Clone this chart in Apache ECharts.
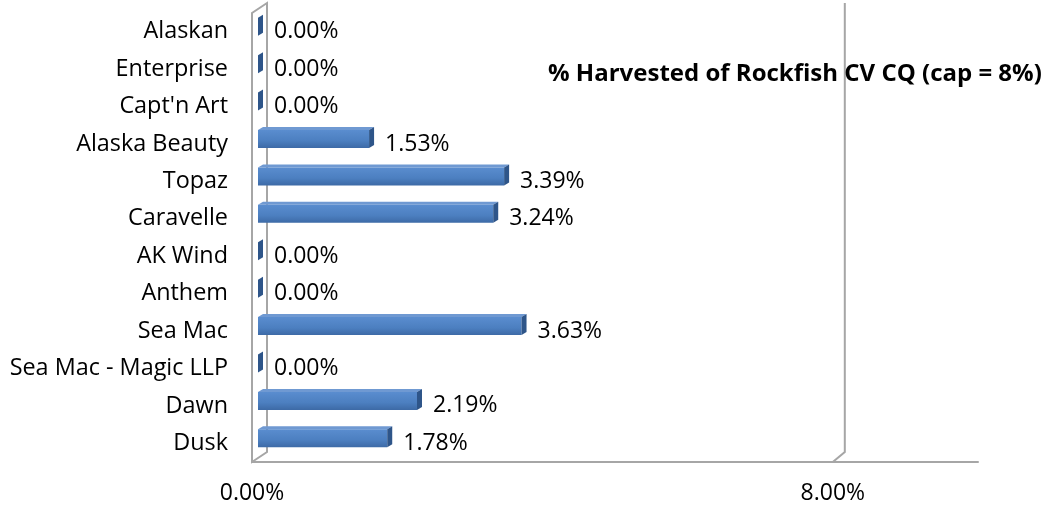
<!DOCTYPE html>
<html>
<head>
<meta charset="utf-8">
<script src="https://cdn.jsdelivr.net/npm/echarts@6/dist/echarts.min.js"></script>
<style>
html,body{margin:0;padding:0;background:#fff;}
#chart{width:1052px;height:508px;}
</style>
</head>
<body>
<div id="chart"></div>
<script>
// ---- data ----
var categories = ["Alaskan", "Enterprise", "Capt'n Art", "Alaska Beauty", "Topaz", "Caravelle",
  "AK Wind", "Anthem", "Sea Mac", "Sea Mac - Magic LLP", "Dawn", "Dusk"];
var harvested = [0.0000, 0.0000, 0.0000, 0.0153, 0.0339, 0.0324, 0.0000, 0.0000, 0.0363, 0.0000, 0.0219, 0.0178];
var xTicks = [0, 0.08];
var titleText = "% Harvested of Rockfish CV CQ (cap = 8%)";

var FONT = "'Open Sans', sans-serif";
function pct(v) { return (v * 100).toFixed(2) + '%'; }

var chart = echarts.init(document.getElementById('chart'), null, {renderer: 'canvas'});

var barData = harvested.map(function (v, i) { return [v, i]; });
var frameData = xTicks.map(function (t) { return [t, 0]; });

function renderFrame(params, api) {
  var cs = params.coordSys;
  var t = api.value(0);
  var xf = api.coord([t, 0])[0];
  var top = cs.y, bottom = cs.y + cs.height;
  if (t === 0) {
    return {
      type: 'polygon',
      shape: {points: [[xf, bottom], [xf, top], [xf + 15, top - 10], [xf + 15, bottom - 10]]},
      style: {stroke: '#a6a6a6', lineWidth: 2, fill: '#fff'}
    };
  }
  return {
    type: 'polyline',
    shape: {points: [[xf, bottom], [xf + 12, bottom - 10], [xf + 12, top - 10]]},
    style: {stroke: '#a6a6a6', lineWidth: 2, fill: null}
  };
}

function renderBar(params, api) {
  var v = api.value(0), ci = api.value(1);
  var p0 = api.coord([0, ci]), p1 = api.coord([v, ci]);
  var h = 18, dx = 6, dy = -5, cd = 5, cdy = -3;
  var x0 = p0[0] + dx, x1 = p1[0] + dx, yc = p0[1] + dy;
  var yt = yc - h / 2, yb = yc + h / 2;
  return {
    type: 'group',
    children: [
      {
        type: 'polygon',
        shape: {points: [[x0, yt], [x0 + cd, yt + cdy], [x1 + cd, yt + cdy], [x1, yt]]},
        style: {fill: '#6f99d2'}
      },
      {
        type: 'rect',
        shape: {x: x0, y: yt, width: Math.max(x1 - x0, 0), height: h},
        style: {
          fill: new echarts.graphic.LinearGradient(0, 0, 0, 1, [
            {offset: 0, color: '#5a8dcf'},
            {offset: 0.6, color: '#4c7fc0'},
            {offset: 1, color: '#3d6aa6'}
          ])
        }
      },
      {
        type: 'polygon',
        shape: {points: [[x1, yt], [x1 + cd, yt + cdy], [x1 + cd, yb + cdy], [x1, yb]]},
        style: {fill: '#2e5589'}
      },
      {
        type: 'text',
        style: {
          x: x1 + 16, y: p0[1],
          text: pct(v),
          font: '23px ' + FONT,
          fill: '#000',
          verticalAlign: 'middle',
          align: 'left'
        }
      }
    ]
  };
}

chart.setOption({
  animation: false,
  backgroundColor: '#fff',
  title: {
    text: titleText,
    left: 543, top: 57,
    textStyle: {fontFamily: FONT, fontWeight: 'bold', fontSize: 24, color: '#000'}
  },
  grid: {left: 252, right: 74, top: 13, bottom: 46, containLabel: false},
  xAxis: {
    type: 'value', min: 0, max: 0.10, interval: 0.08,
    axisLine: {show: true, lineStyle: {color: '#a6a6a6', width: 2}},
    axisTick: {show: false},
    splitLine: {show: false},
    axisLabel: {
      fontFamily: FONT, fontSize: 23, color: '#000', margin: 20,
      showMaxLabel: false,
      formatter: function (v) {
        for (var i = 0; i < xTicks.length; i++) if (Math.abs(v - xTicks[i]) < 1e-9) return pct(v);
        return '';
      }
    }
  },
  yAxis: {
    type: 'category', data: categories, inverse: true,
    axisLine: {show: false}, axisTick: {show: false}, splitLine: {show: false},
    axisLabel: {fontFamily: FONT, fontSize: 23.4, color: '#000', margin: 24}
  },
  series: [
    {type: 'custom', name: 'frame', renderItem: renderFrame, data: frameData, z: 1, silent: true},
    {type: 'custom', name: 'harvested', renderItem: renderBar, data: barData, z: 2,
      encode: {x: 0, y: 1}}
  ]
});
</script>
</body>
</html>
